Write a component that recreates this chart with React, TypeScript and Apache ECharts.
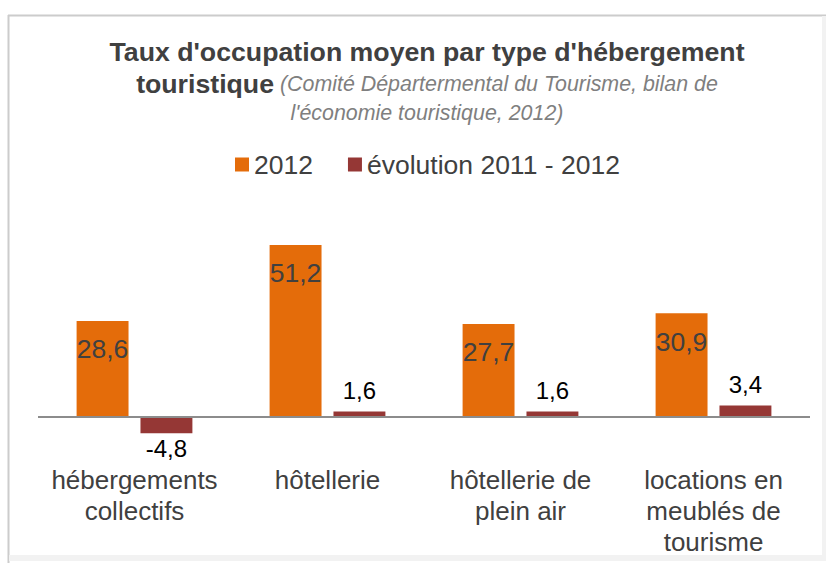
import React, { useEffect, useRef } from "react";
import * as echarts from "echarts";

const categories = [
  "hébergements\ncollectifs",
  "hôtellerie",
  "hôtellerie de\nplein air",
  "locations en\nmeublés de\ntourisme",
];
const seriesNames = ["2012", "évolution 2011 - 2012"];
const values2012 = [28.6, 51.2, 27.7, 30.9];
const evolution = [-4.8, 1.6, 1.6, 3.4];

const titleMain = "Taux d'occupation moyen par type d'hébergement";
const titleLine2 = "touristique";
const sourceLine1 = " (Comité Départermental du Tourisme, bilan de";
const sourceLine2 = "l'économie touristique, 2012)";

const FONT = "'Liberation Sans', Arial, sans-serif";
const ORANGE = "#E46C0A";
const RED = "#953735";
const TEXT = "#404040";

const fmt = (v: number) => String(v).replace(".", ",");

export default function App() {
  const ref = useRef<HTMLDivElement>(null);

  useEffect(() => {
    if (!ref.current) return;
    const chart = echarts.init(ref.current, null, { renderer: "svg" });
    chart.setOption({
      animation: false,
      backgroundColor: "#ffffff",
      textStyle: { fontFamily: FONT },
      graphic: [
        { type: "line", shape: { x1: 8, y1: 15.5, x2: 826, y2: 15.5 }, style: { stroke: "#cccccc", lineWidth: 2 } },
        { type: "line", shape: { x1: 8.5, y1: 15, x2: 8.5, y2: 563 }, style: { stroke: "#cccccc", lineWidth: 2 } },
        { type: "line", shape: { x1: 824, y1: 16, x2: 824, y2: 558 }, style: { stroke: "#f2f2f2", lineWidth: 4 } },
        { type: "line", shape: { x1: 9, y1: 558, x2: 826, y2: 558 }, style: { stroke: "#f2f2f2", lineWidth: 6 } },
        {
          type: "text",
          x: 427,
          y: 36,
          style: {
            text:
              "{b|" + titleMain + "}\n{b|" + titleLine2 + "}{i|" + sourceLine1 + "}\n{i|" + sourceLine2 + "}",
            align: "center",
            verticalAlign: "top",
            rich: {
              b: {
                fontSize: 26.7,
                fontWeight: "bold",
                fill: TEXT,
                color: TEXT,
                lineHeight: 32,
                align: "center",
                fontFamily: FONT,
              },
              i: {
                fontSize: 21.4,
                fontStyle: "italic",
                fill: "#7f7f7f",
                color: "#7f7f7f",
                lineHeight: 26,
                align: "center",
                fontFamily: FONT,
              },
            },
          },
        },
      ],
      legend: {
        data: seriesNames,
        left: 235,
        top: 151,
        padding: 0,
        icon: "rect",
        itemWidth: 14,
        itemHeight: 14,
        itemGap: 35,
        textStyle: { fontSize: 26.5, color: TEXT, fontFamily: FONT, padding: [0, 0, 0, 0] },
      },
      grid: { left: 38, right: 17, top: 215.4, bottom: 112.4, containLabel: false },
      xAxis: {
        type: "category",
        data: categories,
        axisLine: { show: false, onZero: false },
        axisTick: { show: false },
        axisLabel: {
          fontSize: 26,
          lineHeight: 31,
          color: TEXT,
          margin: 14,
          interval: 0,
          fontFamily: FONT,
        },
      },
      yAxis: {
        type: "value",
        min: -10,
        max: 60,
        interval: 10,
        show: false,
        splitLine: { show: false },
      },
      series: [
        {
          name: seriesNames[0],
          type: "bar",
          data: values2012,
          barGap: "23%",
          barCategoryGap: "40%",
          itemStyle: { color: ORANGE },
          label: {
            show: true,
            position: "insideTop",
            distance: 15,
            fontSize: 26.5,
            color: TEXT,
            fontFamily: FONT,
            formatter: (p: any) => fmt(p.value),
          },
          markLine: {
            silent: true,
            symbol: "none",
            label: { show: false },
            lineStyle: { color: "#8c8c8c", width: 2, type: "solid" },
            data: [{ yAxis: 0 }],
          },
        },
        {
          name: seriesNames[1],
          type: "bar",
          data: evolution.map((v) => ({
            value: v,
            label: { position: v < 0 ? "bottom" : "top", distance: v < 0 ? 3 : 9 },
          })),
          itemStyle: { color: RED },
          label: {
            show: true,
            fontSize: 24,
            color: "#000000",
            fontFamily: FONT,
            formatter: (p: any) => fmt(p.value),
          },
        },
      ],
    });
    return () => chart.dispose();
  }, []);

  return (
    <div
      ref={ref}
      style={{ position: "absolute", left: 0, top: 0, width: 827, height: 563 }}
    />
  );
}
